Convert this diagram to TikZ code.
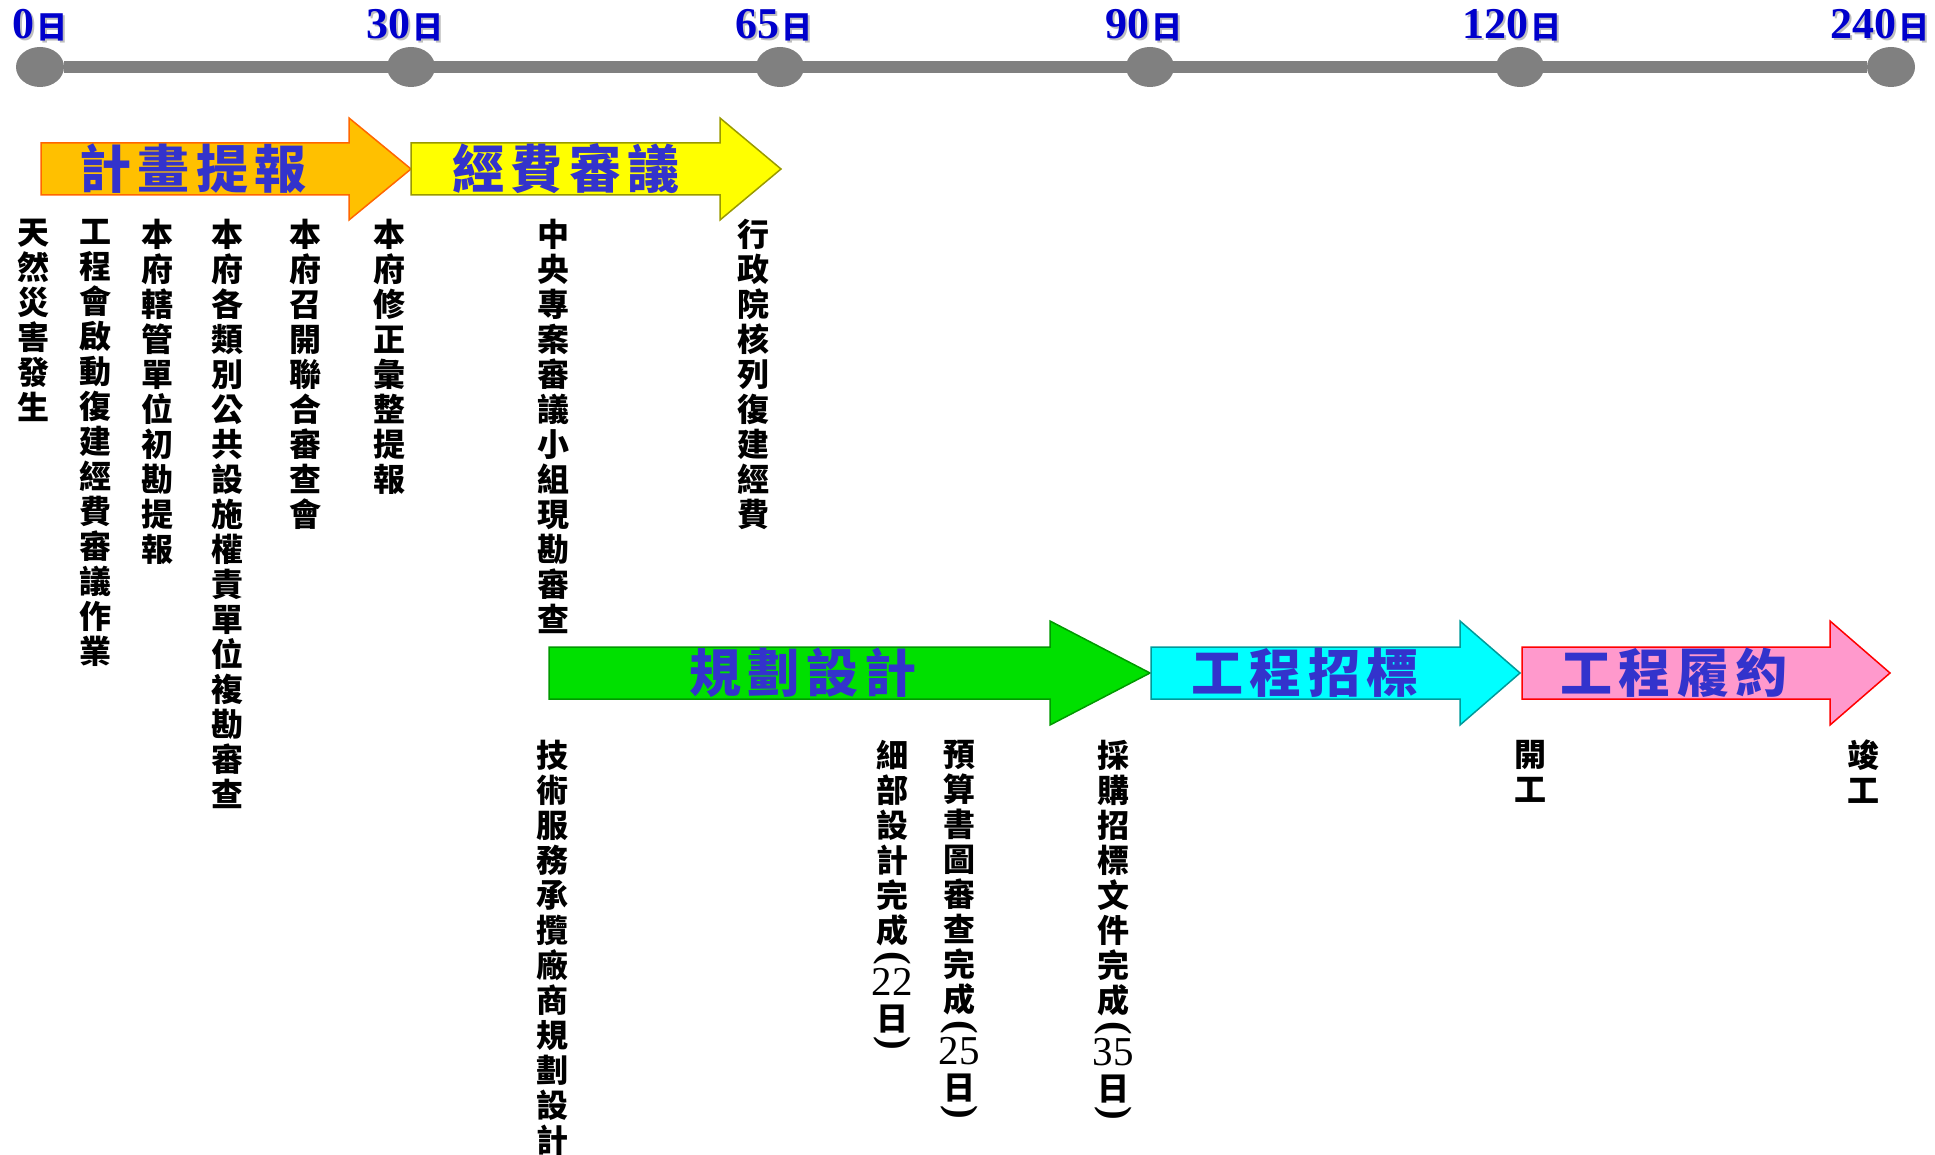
\documentclass[tikz,border=0pt]{standalone}
\usepackage{fontspec}
\usepackage{tikz}
\usetikzlibrary{shapes.geometric}
\setmainfont{Noto Sans CJK TC}
\newfontfamily\numfont{Liberation Serif}

\definecolor{planfill}{HTML}{FFC000}
\definecolor{planedge}{HTML}{FF6600}
\definecolor{fundfill}{HTML}{FFFF00}
\definecolor{fundedge}{HTML}{999900}
\definecolor{designfill}{HTML}{00E000}
\definecolor{designedge}{HTML}{009900}
\definecolor{tenderfill}{HTML}{00FFFF}
\definecolor{tenderedge}{HTML}{009999}
\definecolor{buildfill}{HTML}{FF99CC}
\definecolor{buildedge}{HTML}{FF0000}
\definecolor{tagblue}{HTML}{3333CC}
\definecolor{dayblue}{HTML}{0000CC}
\definecolor{linegray}{HTML}{808080}

% vertical parentheses and numbers inside the notes
\newcommand{\vopen}{{\numfont\fontsize{41}{35}\selectfont\rotatebox[origin=c]{-90}{(}}}
\newcommand{\vclose}{{\numfont\fontsize{41}{35}\selectfont\rotatebox[origin=c]{-90}{)}}}
\newcommand{\vnum}[1]{{\numfont\mdseries\fontsize{41}{35}\selectfont #1}}

\tikzset{
  daymark/.style={shape=ellipse,fill=linegray,minimum width=48pt,minimum height=40pt,inner sep=0pt},
  dayline/.style={draw=linegray,line width=12pt},
  daylabel/.style={anchor=base,inner sep=0pt,text=dayblue,font=\bfseries},
  phase/.style={line width=1.5pt},
  phasetext/.style={text=tagblue,inner sep=0pt,font=\fontsize{52}{52}\selectfont\bfseries\addfontfeature{LetterSpace=12}},
  stepnote/.style={anchor=north,align=center,inner sep=0pt,font=\fontsize{32}{35}\selectfont\bfseries},
}

\begin{document}
\begin{tikzpicture}[x=1pt,y=-1pt]
\useasboundingbox (0,0) rectangle (1935,1155);

% time line
\foreach \x/\lx/\d [count=\i] in {40/40/0,411/405/30,780/774/65,1150/1144/90,1520/1512/120,1891/1880/240} {
  \node[daymark] (t\i) at (\x,67) {};
  \node[daylabel,text=black!25] at (\lx+2,41) {{\numfont\fontsize{44}{44}\selectfont\d}\,{\fontsize{31}{31}\selectfont 日}};
  \node[daylabel] (d\i) at (\lx,39) {{\numfont\fontsize{44}{44}\selectfont\d}\,{\fontsize{31}{31}\selectfont 日}};
}
\draw[dayline] (t1) -- (t6);

% phases
\draw[phase,fill=planfill,draw=planedge] (41,143) -- (349,143) -- (349,118) -- (411,169) -- (349,220) -- (349,195) -- (41,195) -- cycle;
\draw[phase,fill=fundfill,draw=fundedge] (411,143) -- (720,143) -- (720,118) -- (781,169) -- (720,220) -- (720,195) -- (411,195) -- cycle;
\draw[phase,fill=designfill,draw=designedge] (549,647) -- (1050,647) -- (1050,621) -- (1150,673) -- (1050,725) -- (1050,699) -- (549,699) -- cycle;
\draw[phase,fill=tenderfill,draw=tenderedge] (1151,647) -- (1460,647) -- (1460,621) -- (1520,673) -- (1460,725) -- (1460,699) -- (1151,699) -- cycle;
\draw[phase,fill=buildfill,draw=buildedge] (1522,647) -- (1830,647) -- (1830,621) -- (1890,673) -- (1830,725) -- (1830,699) -- (1522,699) -- cycle;
\node[phasetext] (plan) at (193,169) {計畫提報};
\node[phasetext] (fund) at (566,169) {經費審議};
\node[phasetext] (design) at (803,673) {規劃設計};
\node[phasetext] (tender) at (1305,673) {工程招標};
\node[phasetext] (build) at (1674,673) {工程履約};

% notes under first row
\node[stepnote] (n1) at (33,219) {天\\然\\災\\害\\發\\生};
\node[stepnote] (n2) at (95,219) {工\\程\\會\\啟\\動\\復\\建\\經\\費\\審\\議\\作\\業};
\node[stepnote] (n3) at (157,219) {本\\府\\轄\\管\\單\\位\\初\\勘\\提\\報};
\node[stepnote] (n4) at (227,219) {本\\府\\各\\類\\別\\公\\共\\設\\施\\權\\責\\單\\位\\複\\勘\\審\\查};
\node[stepnote] (n5) at (305,219) {本\\府\\召\\開\\聯\\合\\審\\查\\會};
\node[stepnote] (n6) at (389,219) {本\\府\\修\\正\\彙\\整\\提\\報};
\node[stepnote] (n7) at (553,219) {中\\央\\專\\案\\審\\議\\小\\組\\現\\勘\\審\\查};
\node[stepnote] (n8) at (753,219) {行\\政\\院\\核\\列\\復\\建\\經\\費};

% notes under second row
\node[stepnote] (m1) at (552,740) {技\\術\\服\\務\\承\\攬\\廠\\商\\規\\劃\\設\\計};
\node[stepnote] (m2) at (892,740) {細\\部\\設\\計\\完\\成\\[-9pt]\vopen\\[-8pt]\vnum{22}\\日\\[-12pt]\vclose};
\node[stepnote] (m3) at (959,740) {預\\算\\書\\圖\\審\\查\\完\\成\\[-9pt]\vopen\\[-8pt]\vnum{25}\\日\\[-12pt]\vclose};
\node[stepnote] (m4) at (1113,740) {採\\購\\招\\標\\文\\件\\完\\成\\[-9pt]\vopen\\[-8pt]\vnum{35}\\日\\[-12pt]\vclose};
\node[stepnote] (m5) at (1530,740) {開\\工};
\node[stepnote] (m6) at (1863,740) {竣\\工};
\end{tikzpicture}
\end{document}
